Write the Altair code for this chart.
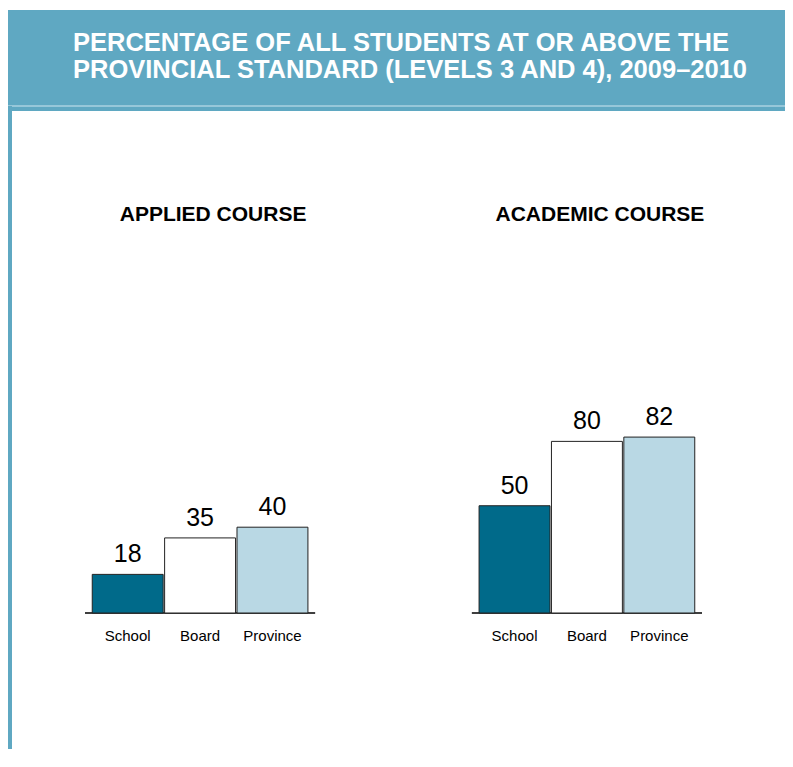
import altair as alt
import pandas as pd

# ---- data ----
title_lines = ["PERCENTAGE OF ALL STUDENTS AT OR ABOVE THE",
               "PROVINCIAL STANDARD (LEVELS 3 AND 4), 2009\u20132010"]
courses = ["APPLIED COURSE", "ACADEMIC COURSE"]
categories = ["School", "Board", "Province"]
applied_values = [18, 35, 40]
academic_values = [50, 80, 82]
bar_colors = ["#006a8a", "#ffffff", "#b9d8e4"]

rows = []
for c, vals in zip(courses, [applied_values, academic_values]):
    for cat, v in zip(categories, vals):
        rows.append({"course": c, "category": cat, "value": v, "label": str(v), "zero": 0})
df = pd.DataFrame(rows)
course_df = pd.DataFrame({"course": courses, "zero": [0, 0]})
one = pd.DataFrame({"k": [0]})

FONT = "Liberation Sans"
TEAL = "#5fa8c2"
W, H = 772, 502

xscale = alt.Scale(domain=courses, range=[72, 689], paddingInner=0.405, paddingOuter=0)
xoff = alt.XOffset("category:N", sort=categories,
                   scale=alt.Scale(domain=categories, paddingInner=0.02, paddingOuter=0.1))
yscale = alt.Scale(domain=[0, 234], nice=False, zero=True)

X = alt.X("course:N", scale=xscale, axis=None)

bars = alt.Chart(df).mark_bar(stroke="#222222", strokeWidth=1).encode(
    x=X, xOffset=xoff,
    y=alt.Y("value:Q", scale=yscale, axis=None),
    color=alt.Color("category:N", scale=alt.Scale(domain=categories, range=bar_colors), legend=None),
)

values = alt.Chart(df).mark_text(font=FONT, fontSize=25, baseline="alphabetic", dy=-12,
                                 color="#000000").encode(
    x=X, xOffset=xoff,
    y=alt.Y("value:Q", scale=yscale, axis=None),
    text="label:N",
)

cat_labels = alt.Chart(df).mark_text(font=FONT, fontSize=15, baseline="alphabetic", dy=28,
                                     color="#000000").encode(
    x=X, xOffset=xoff,
    y=alt.Y("zero:Q", scale=yscale, axis=None),
    text="category:N",
)

baseline = alt.Chart(course_df).mark_bar(stroke="#000000", strokeWidth=1.5, fill="#000000").encode(
    x=X,
    y=alt.Y("zero:Q", scale=yscale, axis=None),
    y2="zero:Q",
)

panel_titles = alt.Chart(course_df).mark_text(font=FONT, fontSize=21, fontWeight="bold",
                                              baseline="alphabetic", dx=13, color="#000000").encode(
    x=X,
    y=alt.value(110),
    text="course:N",
)

header = alt.Chart(one).mark_rect(color=TEAL).encode(
    x=alt.value(-5), x2=alt.value(W), y=alt.value(-101), y2=alt.value(0)
)
header_line = alt.Chart(one).mark_rule(color="#a8d2e0", strokeWidth=1.5).encode(
    x=alt.value(-5), x2=alt.value(W), y=alt.value(-5)
)
stripe = alt.Chart(one).mark_rect(color=TEAL).encode(
    x=alt.value(-5), x2=alt.value(-1), y=alt.value(-5), y2=alt.value(640)
)
header_text1 = alt.Chart(one).mark_text(font=FONT, fontSize=25.5, fontWeight="bold", color="#ffffff",
                                        align="left", baseline="alphabetic").encode(
    x=alt.value(60), y=alt.value(-60), text=alt.value(title_lines[0])
)
header_text2 = alt.Chart(one).mark_text(font=FONT, fontSize=25.5, fontWeight="bold", color="#ffffff",
                                        align="left", baseline="alphabetic").encode(
    x=alt.value(60), y=alt.value(-33), text=alt.value(title_lines[1])
)

chart = alt.layer(
    header, header_line, stripe, header_text1, header_text2,
    baseline, bars, values, cat_labels, panel_titles
).properties(
    width=W, height=H,
    autosize=alt.AutoSizeParams(type="none"),
    padding={"left": 5, "top": 103, "right": 0, "bottom": 136},
    background="#ffffff",
).configure_view(strokeWidth=0)

chart.save("out.html", embed_options={"renderer": "svg", "actions": False})
